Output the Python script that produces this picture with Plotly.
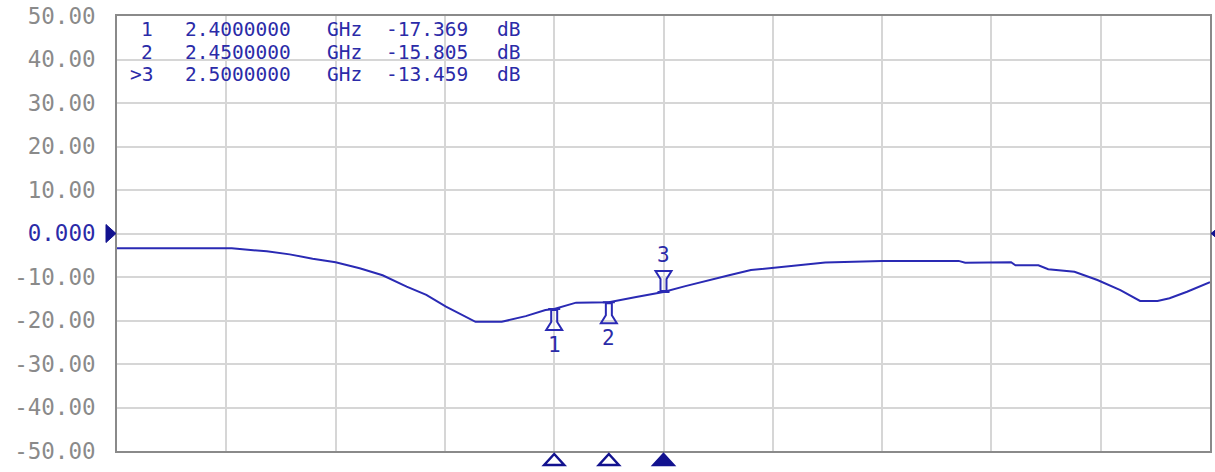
import plotly.graph_objects as go

# ---- data ----
freq_ghz = [2.000, 2.105, 2.137, 2.158, 2.179, 2.200, 2.222, 2.243, 2.265, 2.283,
            2.301, 2.328, 2.352, 2.374, 2.392, 2.400, 2.420, 2.450, 2.475, 2.500,
            2.520, 2.538, 2.560, 2.580, 2.600, 2.628, 2.648, 2.700, 2.770, 2.776,
            2.818, 2.822, 2.843, 2.852, 2.876, 2.897, 2.918, 2.936, 2.952, 2.963,
            2.979, 3.000]
s11_db = [-3.4, -3.4, -4.1, -4.8, -5.8, -6.6, -8.0, -9.6, -12.2, -14.1,
          -16.8, -20.3, -20.3, -19.0, -17.6, -17.369, -15.9, -15.805, -14.6, -13.459,
          -12.1, -10.9, -9.6, -8.4, -7.9, -7.1, -6.65, -6.3, -6.3, -6.7,
          -6.6, -7.3, -7.3, -8.2, -8.8, -10.7, -13.0, -15.5, -15.5, -14.9,
          -13.4, -11.2]

marker_names = ["1", "2", "3"]
marker_freqs = [2.40, 2.45, 2.50]
marker_vals = [-17.369, -15.805, -13.459]
active_marker = "3"

y_ticks = [50, 40, 30, 20, 10, 0, -10, -20, -30, -40, -50]
ref_level = 0
x_range = [2.0, 3.0]
x_grid = [2.0 + 0.1 * i for i in range(11)]

# ---- style ----
BLUE = "#2a2ab4"
TXT_BLUE = "#2b2ba8"
NAVY = "#12128f"
GRAY_TXT = "#8a8a8a"
GRID = "#d6d6d6"
FRAME = "#8a8a8a"
MONO = "DejaVu Sans Mono"

fig = go.Figure()
fig.add_trace(go.Scatter(x=freq_ghz, y=s11_db, mode="lines",
                         line=dict(color=BLUE, width=2), hoverinfo="skip",
                         showlegend=False))

def ticktxt(v):
    if v == ref_level:
        return f"<span style='color:{TXT_BLUE}'>0.000</span>"
    return f"{v:.2f}"

fig.update_xaxes(range=x_range, tickvals=x_grid, showticklabels=False,
                 showgrid=True, gridcolor=GRID, gridwidth=2, zeroline=False,
                 showline=True, mirror=True, linecolor=FRAME, linewidth=2,
                 ticks="")
fig.update_yaxes(range=[-50, 50], tickvals=y_ticks,
                 ticktext=[ticktxt(v) for v in y_ticks],
                 showgrid=True, gridcolor=GRID, gridwidth=2, zeroline=False,
                 showline=True, mirror=True, linecolor=FRAME, linewidth=2,
                 ticks="", ticklabelstandoff=15,
                 tickfont=dict(family=MONO, size=22.5, color=GRAY_TXT))

shapes = []
annots = []
up_path = "M-6,0 L6,0 M-3,-1 L3,-1 L3,-13 L8,-21 L-8,-21 L-3,-13 Z"
down_path = "M-6,0 L6,0 M-3,1 L3,1 L3,13 L8,21 L-8,21 L-3,13 Z"
for name, f, v in zip(marker_names, marker_freqs, marker_vals):
    active = name == active_marker
    shapes.append(dict(type="path", xref="x", yref="y", xsizemode="pixel",
                       ysizemode="pixel", xanchor=f, yanchor=v,
                       path=down_path if active else up_path,
                       line=dict(color=BLUE, width=2), fillcolor="rgba(0,0,0,0)",
                       layer="above"))
    annots.append(dict(x=f, y=v, xref="x", yref="y", text=name, showarrow=False,
                       yshift=37 if active else -36,
                       font=dict(family=MONO, size=21, color=TXT_BLUE)))
    # stimulus-axis marker triangles below the grid
    shapes.append(dict(type="path", xref="x", yref="paper", xsizemode="pixel",
                       ysizemode="pixel", xanchor=f, yanchor=0,
                       path="M-10,-14 L10,-14 L0,-3 Z",
                       line=dict(color=NAVY, width=2.5),
                       fillcolor=NAVY if active else "white", layer="above"))

# reference level arrows
shapes.append(dict(type="path", xref="paper", yref="y", xsizemode="pixel",
                   ysizemode="pixel", xanchor=0, yanchor=ref_level,
                   path="M-11,9 L-1,0 L-11,-9 Z", line=dict(color=NAVY, width=1),
                   fillcolor=NAVY, layer="above"))
shapes.append(dict(type="path", xref="paper", yref="y", xsizemode="pixel",
                   ysizemode="pixel", xanchor=1, yanchor=ref_level,
                   path="M12,9 L1,0 L12,-9 Z", line=dict(color=NAVY, width=1),
                   fillcolor=NAVY, layer="above"))

# marker readout table (column by column)
L, R, T, B = 117, 3, 15, 21
W, H = 1215, 472
row_y0 = 29
row_dy = 22.5
for i, (name, f, v) in enumerate(zip(marker_names, marker_freqs, marker_vals)):
    y = row_y0 + i * row_dy
    prefix = ">" if name == active_marker else ""
    cols = [(prefix + name, 154, "right"), (f"{f:.7f}", 184, "left"),
            ("GHz", 326, "left"), (f"{v:.3f}", 385, "left"), ("dB", 497, "left")]
    for txt, xp, anc in cols:
        annots.append(dict(x=(xp - L) / (W - L - R), y=((H - y) - B) / (H - T - B),
                           xref="paper", yref="paper", text=txt, showarrow=False,
                           xanchor=anc, yanchor="middle", borderpad=0,
                           font=dict(family=MONO, size=19.5, color=TXT_BLUE)))

fig.update_layout(width=W, height=H, margin=dict(l=L, r=R, t=T, b=B),
                  paper_bgcolor="white", plot_bgcolor="white",
                  shapes=shapes, annotations=annots, showlegend=False)

fig.write_html("out.html", config={"displayModeBar": False},
               post_script="document.body.style.margin='0';document.body.style.overflow='hidden';")
